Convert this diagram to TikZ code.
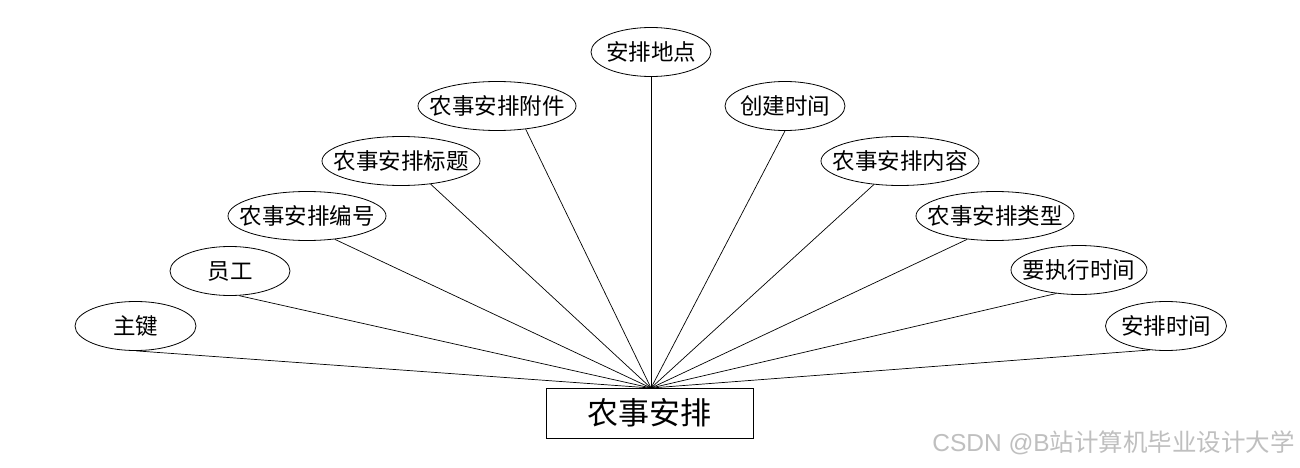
\documentclass[tikz,border=0pt]{standalone}
\usepackage{fontspec}
\setmainfont{Noto Sans CJK SC}
\newfontfamily\latinwm{Liberation Sans}
\usetikzlibrary{shapes.geometric}
\newcommand\etxt[1]{\makebox[0pt]{\raisebox{-0.38em}[0pt][0pt]{#1}}}
\tikzset{
  attr/.style={draw, ellipse, line width=0.8pt, inner sep=0pt, minimum height=49pt, font=\fontsize{22.5}{22.5}\selectfont},
  entbox/.style={draw, rectangle, line width=0.8pt, inner sep=0pt, minimum width=207pt, minimum height=50pt, font=\fontsize{31}{31}\selectfont},
  link/.style={line width=0.7pt},
  wm/.style={text=gray!50, font=\fontsize{24.5}{24.5}\selectfont, inner sep=0pt, anchor=east}
}
\begin{document}
\begin{tikzpicture}[x=1pt,y=-1pt]
\useasboundingbox[fill=white] (0,0) rectangle (1300,468);
\node[entbox] (ent) at (649.5,413) {\etxt{农事安排}};
\node[attr, minimum width=121pt] (a1) at (135.5,326) {\etxt{主键}};
\node[attr, minimum width=120pt] (a2) at (230,271) {\etxt{员工}};
\node[attr, minimum width=158pt] (a3) at (307,216) {\etxt{农事安排编号}};
\node[attr, minimum width=158pt] (a4) at (401,161) {\etxt{农事安排标题}};
\node[attr, minimum width=158pt] (a5) at (497,106) {\etxt{农事安排附件}};
\node[attr, minimum width=120pt] (a6) at (651,52) {\etxt{安排地点}};
\node[attr, minimum width=120pt] (a7) at (785,106) {\etxt{创建时间}};
\node[attr, minimum width=158pt] (a8) at (900,161) {\etxt{农事安排内容}};
\node[attr, minimum width=158pt] (a9) at (995,216) {\etxt{农事安排类型}};
\node[attr, minimum width=136pt] (a10) at (1079,270) {\etxt{要执行时间}};
\node[attr, minimum width=121pt] (a11) at (1166,326) {\etxt{安排时间}};
\coordinate (hub) at (651,388);
\draw[link] (a1.272) -- (hub);
\draw[link] (a2.290) -- (hub);
\draw[link] (a3.320) -- (hub);
\draw[link] (a4.322) -- (hub);
\draw[link] (a5.321) -- (hub);
\draw[link] (a6.south) -- (hub);
\draw[link] (a7.south) -- (hub);
\draw[link] (a8.222) -- (hub);
\draw[link] (a9.220) -- (hub);
\draw[link] (a10.226) -- (hub);
\draw[link] (a11.236) -- (hub);
\node[wm] (wmk) at (1295,443) {{\latinwm CSDN @B}站计算机毕业设计大学};
\end{tikzpicture}
\end{document}
